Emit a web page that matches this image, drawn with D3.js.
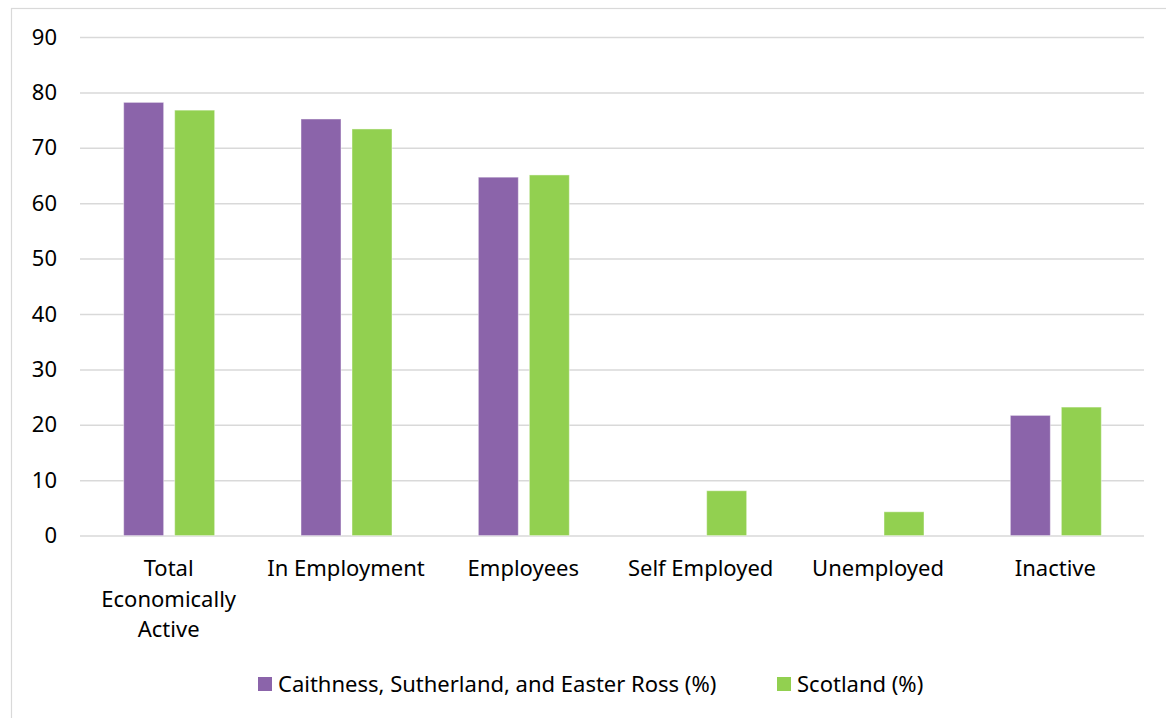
<!DOCTYPE html>
<html>
<head>
<meta charset="utf-8">
<script src="https://cdn.jsdelivr.net/npm/d3@7"></script>
<style>
  html, body { margin: 0; padding: 0; background: #fff; }
  svg { display: block; font-family: "Noto Sans", "Open Sans", sans-serif; }
</style>
</head>
<body>
<svg id="chart" width="1166" height="718"></svg>
<script>
// Economic activity rates, Caithness, Sutherland & Easter Ross vs Scotland
const categories = [
  ["Total", "Economically", "Active"],
  ["In Employment"],
  ["Employees"],
  ["Self Employed"],
  ["Unemployed"],
  ["Inactive"]
];
const seriesNames = ["Caithness, Sutherland, and Easter Ross (%)", "Scotland (%)"];
const caithness = [78.2, 75.2, 64.7, null, null, 21.7];
const scotland = [76.8, 73.4, 65.1, 8.1, 4.3, 23.2];
const yTicks = [0, 10, 20, 30, 40, 50, 60, 70, 80, 90];
const colors = ["#8B64AA", "#92D050"];

const FONT = 22;
const svg = d3.select("#chart");

// outer frame
svg.append("rect")
  .attr("x", 11.5).attr("y", 8.5)
  .attr("width", 1300).attr("height", 900)
  .attr("fill", "none").attr("stroke", "#d9d9d9").attr("stroke-width", 1.2);

const plot = { left: 80, right: 1144, top: 37, bottom: 535.6 };

const x = d3.scaleBand()
  .domain(d3.range(categories.length))
  .range([plot.left, plot.right])
  .paddingInner(0).paddingOuter(0);

const y = d3.scaleLinear().domain([0, 90]).range([plot.bottom, plot.top]);

// two bars of 40px with an 11px gap, centred in each category
const barW = 40, barGap = 11;
const pairW = 2 * barW + barGap;
const xs = d3.scaleBand().domain([0, 1])
  .range([-pairW / 2 + 0.5, pairW / 2 + 0.5])
  .paddingInner(barGap / (barW + barGap));

// gridlines + y tick labels
const yAxis = d3.axisLeft(y).tickValues(yTicks).tickSize(-(plot.right - plot.left)).tickPadding(23);
const gy = svg.append("g").attr("transform", `translate(${plot.left},0)`).call(yAxis);
gy.select(".domain").remove();
gy.selectAll(".tick line").attr("stroke", "#d9d9d9").attr("stroke-width", 1.5);
gy.selectAll(".tick text")
  .attr("fill", "#000").attr("font-size", FONT)
  .attr("font-family", "Noto Sans, Open Sans, sans-serif");

// bars
const series = [caithness, scotland];
series.forEach((vals, si) => {
  svg.append("g").selectAll("rect")
    .data(vals.map((v, i) => ({ v, i })).filter(d => d.v != null))
    .join("rect")
    .attr("x", d => x(d.i) + x.bandwidth() / 2 + xs(si))
    .attr("width", xs.bandwidth())
    .attr("y", d => y(d.v))
    .attr("height", d => y(0) - y(d.v))
    .attr("fill", colors[si])
    .attr("stroke", "rgba(255,255,255,0.45)")
    .attr("stroke-width", 1);
});

// category labels
const gx = svg.append("g");
categories.forEach((lines, i) => {
  const cx = x(i) + x.bandwidth() / 2;
  const t = gx.append("text")
    .attr("x", cx)
    .attr("y", 576)
    .attr("text-anchor", "middle")
    .attr("font-size", FONT)
    .attr("fill", "#000");
  lines.forEach((ln, k) => {
    t.append("tspan").attr("x", cx).attr("dy", k === 0 ? 0 : 30.5).text(ln);
  });
});

// legend
const legendY = 684;
const legendItems = [{ x: 258 }, { x: 777 }];
legendItems.forEach((it, i) => {
  svg.append("rect")
    .attr("x", it.x).attr("y", legendY - 7)
    .attr("width", 14).attr("height", 14)
    .attr("fill", colors[i]);
  svg.append("text")
    .attr("x", it.x + 20).attr("y", legendY + 8)
    .attr("font-size", FONT).attr("fill", "#000")
    .text(seriesNames[i]);
});
</script>
</body>
</html>
